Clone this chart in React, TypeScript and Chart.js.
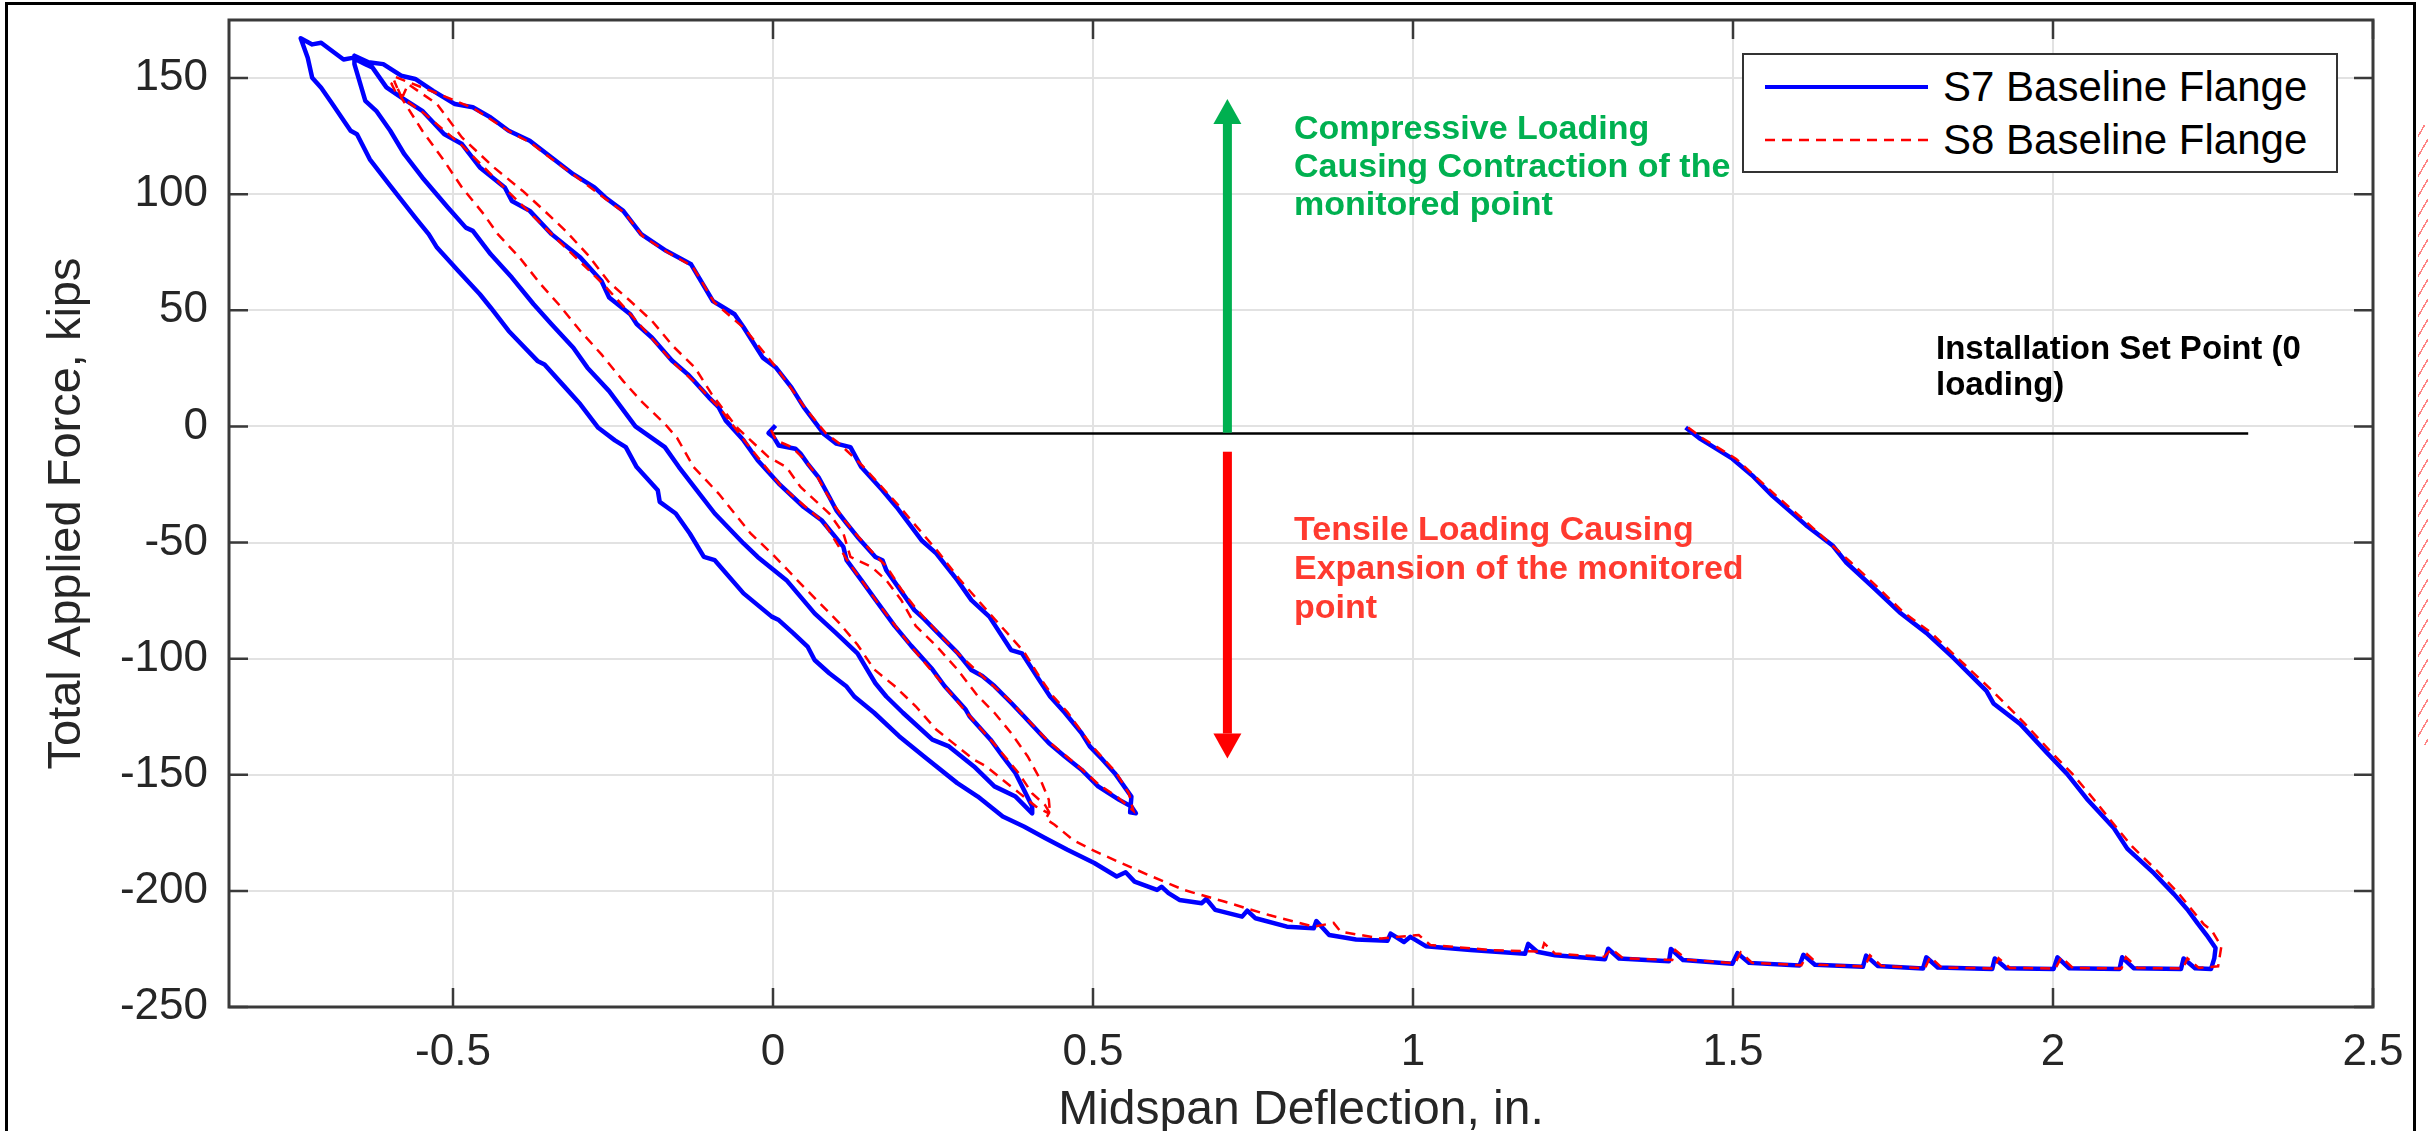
import React, { useEffect, useRef } from 'react';
import { Chart, registerables } from 'chart.js';

Chart.register(...registerables);

type Pt = [number, number];

const W = 2428;
const H = 1131;
const FONT = '"Liberation Sans", Arial, Helvetica, sans-serif';

// ---- axes ----
const xTicks = [-0.5, 0, 0.5, 1, 1.5, 2, 2.5];
const yTicks = [-250, -200, -150, -100, -50, 0, 50, 100, 150];
const xRange: Pt = [-0.85, 2.5];
const yRange: Pt = [-250, 175];

// ---- S7 Baseline Flange (blue, solid) ----
const s7FirstTension: Pt[] = [
  [0.004, 0.4], [-0.007, -2.9], [0.001, -4.6], [0.009, -8.2], [0.035, -9.6], [0.043, -11.7], [0.054, -16.0],
  [0.071, -21.8], [0.088, -30.4], [0.099, -36.1], [0.115, -41.8], [0.132, -47.6], [0.160, -56.2], [0.171, -57.6],
  [0.177, -61.9], [0.199, -70.5], [0.221, -79.1], [0.236, -82.9], [0.262, -90.2], [0.288, -97.4], [0.310, -104.9],
  [0.327, -107.5], [0.346, -111.8], [0.372, -119.0], [0.392, -124.8], [0.431, -136.3], [0.456, -142.1],
  [0.482, -147.8], [0.508, -155.0], [0.541, -160.8], [0.560, -163.7], [0.567, -166.6],
];
const s7FirstReload: Pt[] = [
  [0.558, -166.2], [0.560, -159.4], [0.534, -149.3], [0.515, -143.5], [0.495, -137.8], [0.482, -132.0],
  [0.456, -123.3], [0.433, -116.3], [0.416, -109.2], [0.389, -97.7], [0.372, -96.3], [0.338, -81.9],
  [0.310, -74.8], [0.288, -66.2], [0.255, -54.7], [0.232, -49.0], [0.193, -34.7], [0.171, -27.5], [0.138, -17.5],
  [0.121, -8.9], [0.099, -7.4], [0.080, -3.4], [0.048, 8.3], [0.029, 16.7], [0.004, 25.5], [-0.016, 29.6],
  [-0.046, 42.7], [-0.060, 48.3], [-0.094, 54.0], [-0.128, 69.8], [-0.167, 75.6], [-0.206, 82.8], [-0.234, 92.8],
  [-0.262, 98.6], [-0.279, 102.9], [-0.312, 108.6], [-0.346, 115.8], [-0.380, 123.0], [-0.413, 127.3],
  [-0.441, 133.0], [-0.469, 137.4], [-0.497, 138.8], [-0.531, 144.5], [-0.559, 149.6], [-0.581, 151.0],
  [-0.609, 156.0], [-0.632, 156.8], [-0.654, 159.6],
];
const s7SecondTension: Pt[] = [
  [-0.654, 156.0], [-0.637, 140.2], [-0.620, 135.9], [-0.598, 127.3], [-0.576, 117.2], [-0.548, 107.2],
  [-0.508, 94.3], [-0.480, 85.6], [-0.469, 84.2], [-0.441, 74.1], [-0.408, 64.1], [-0.374, 52.6], [-0.346, 44.0],
  [-0.312, 33.9], [-0.290, 25.3], [-0.256, 15.2], [-0.215, 0.0], [-0.169, -8.9], [-0.147, -17.5], [-0.119, -27.5],
  [-0.091, -37.5], [-0.046, -50.4], [-0.024, -56.2], [0.021, -66.2], [0.065, -80.5], [0.099, -89.1],
  [0.132, -97.7], [0.160, -110.6], [0.177, -116.3], [0.203, -123.3], [0.249, -134.9], [0.275, -137.8],
  [0.314, -146.4], [0.346, -155.0], [0.379, -159.4], [0.405, -166.6],
];
const s7SecondReload: Pt[] = [
  [0.405, -163.7], [0.392, -156.5], [0.379, -149.3], [0.359, -142.1], [0.340, -134.9], [0.307, -124.8],
  [0.301, -121.9], [0.268, -111.8], [0.249, -104.6], [0.216, -94.5], [0.190, -85.9], [0.160, -74.6],
  [0.138, -66.2], [0.115, -57.6], [0.110, -51.9], [0.076, -40.4], [0.048, -34.7], [0.009, -24.6], [-0.024, -14.6],
  [-0.046, -6.0], [-0.074, 2.6], [-0.085, 8.3], [-0.100, 12.4], [-0.124, 19.8], [-0.133, 22.4], [-0.158, 28.4],
  [-0.189, 38.2], [-0.213, 44.1], [-0.223, 48.3], [-0.256, 55.5], [-0.268, 62.6], [-0.301, 72.7], [-0.346, 82.8],
  [-0.380, 92.8], [-0.408, 97.1], [-0.419, 102.9], [-0.458, 111.5], [-0.486, 121.6], [-0.514, 125.9],
  [-0.548, 135.9], [-0.581, 141.7], [-0.604, 146.0], [-0.626, 154.6], [-0.637, 156.0], [-0.657, 158.7],
  [-0.671, 158.0], [-0.692, 162.3], [-0.706, 165.2], [-0.720, 164.5], [-0.738, 167.1],
];
const s7FinalTension: Pt[] = [
  [-0.727, 158.7], [-0.720, 150.1], [-0.706, 145.8], [-0.690, 139.5], [-0.660, 127.3], [-0.650, 125.8],
  [-0.630, 115.0], [-0.598, 103.6], [-0.559, 89.9], [-0.538, 82.8], [-0.525, 77.0], [-0.492, 67.0],
  [-0.458, 56.9], [-0.441, 51.1], [-0.413, 41.1], [-0.368, 28.2], [-0.357, 26.7], [-0.329, 18.1], [-0.301, 9.5],
  [-0.273, -0.6], [-0.247, -6.0], [-0.230, -8.9], [-0.213, -17.5], [-0.180, -27.5], [-0.177, -32.5],
  [-0.152, -37.5], [-0.130, -46.1], [-0.108, -56.2], [-0.091, -57.6], [-0.046, -71.9], [-0.002, -81.9],
  [0.009, -83.4], [0.032, -89.1], [0.054, -94.8], [0.065, -100.6], [0.088, -106.3], [0.115, -112.0],
  [0.127, -116.3], [0.158, -123.3], [0.197, -133.4], [0.236, -142.1], [0.288, -153.6], [0.320, -159.4],
  [0.359, -168.0], [0.392, -172.3], [0.425, -177.2], [0.460, -182.3], [0.502, -188.0], [0.537, -193.8],
  [0.551, -192.0], [0.565, -196.0], [0.600, -199.6], [0.607, -198.2], [0.618, -201.0], [0.635, -203.9],
  [0.670, -205.3], [0.677, -203.5], [0.691, -208.2], [0.733, -211.1], [0.741, -208.5], [0.754, -211.8],
  [0.803, -215.4], [0.845, -216.1], [0.849, -213.0], [0.869, -219.0], [0.911, -220.9], [0.960, -221.5],
  [0.965, -218.4], [0.986, -222.0], [0.996, -219.8], [1.020, -223.8], [1.090, -225.5], [1.175, -227.1],
  [1.180, -222.8], [1.194, -226.2], [1.222, -227.7], [1.300, -229.4], [1.305, -224.9], [1.322, -229.1],
  [1.400, -230.3], [1.403, -225.0], [1.422, -229.8], [1.499, -231.4], [1.507, -226.8], [1.525, -231.0],
  [1.604, -232.1], [1.610, -227.5], [1.628, -231.8], [1.703, -232.7], [1.708, -227.9], [1.726, -232.3],
  [1.797, -233.4], [1.802, -228.6], [1.820, -233.0], [1.905, -233.6], [1.909, -229.1], [1.927, -233.3],
  [2.001, -233.6], [2.007, -228.6], [2.025, -233.3], [2.104, -233.6], [2.108, -228.6], [2.126, -233.3],
  [2.200, -233.6], [2.204, -229.1], [2.222, -233.3], [2.247, -233.6], [2.252, -229.1], [2.254, -224.6],
];
const s7Unload: Pt[] = [
  [2.240, -219.0], [2.226, -214.0], [2.210, -208.0], [2.189, -201.4], [2.158, -192.5], [2.116, -181.8],
  [2.095, -172.9], [2.053, -160.4], [2.022, -149.6], [1.991, -140.7], [1.949, -128.2], [1.907, -119.3],
  [1.896, -113.9], [1.844, -99.6], [1.802, -88.9], [1.760, -80.0], [1.719, -69.3], [1.677, -58.6],
  [1.656, -51.4], [1.614, -42.5], [1.562, -30.0], [1.530, -21.1], [1.499, -13.9], [1.468, -8.6],
  [1.447, -5.0], [1.426, -0.5],
];

// ---- S8 Baseline Flange (red, dashed) ----
const s8FirstTension: Pt[] = [
  [-0.003, -1.5], [0.005, -6.0], [0.030, -9.0], [0.050, -14.5], [0.068, -21.0], [0.085, -29.5], [0.112, -40.5],
  [0.130, -46.5], [0.158, -55.0], [0.178, -60.5], [0.200, -70.0], [0.222, -78.0], [0.260, -89.5], [0.290, -98.0],
  [0.325, -107.0], [0.370, -118.0], [0.390, -124.0], [0.430, -135.5], [0.480, -147.0], [0.508, -154.0],
  [0.540, -160.0], [0.563, -165.5],
];
const s8FirstReload: Pt[] = [
  [0.556, -158.0], [0.536, -149.0], [0.498, -137.5], [0.460, -123.0], [0.437, -116.0], [0.418, -108.5],
  [0.392, -97.0], [0.340, -81.0], [0.292, -66.0], [0.258, -54.0], [0.196, -34.0], [0.140, -17.0], [0.102, -7.0],
  [0.082, -2.8], [0.050, 8.0], [0.006, 25.0], [-0.044, 42.0], [-0.092, 53.5], [-0.126, 69.0], [-0.165, 75.0],
  [-0.204, 82.0], [-0.232, 92.0], [-0.262, 98.0], [-0.310, 108.0], [-0.345, 115.0], [-0.378, 122.0],
  [-0.412, 127.0], [-0.468, 137.0], [-0.530, 144.0], [-0.572, 148.5], [-0.590, 150.5], [-0.596, 147.5],
  [-0.588, 143.0], [-0.578, 142.5],
];
const s8SecondTension: Pt[] = [
  [-0.570, 147.4], [-0.525, 138.8], [-0.486, 124.4], [-0.436, 111.5], [-0.391, 101.4], [-0.357, 92.8],
  [-0.324, 84.2], [-0.290, 74.1], [-0.256, 62.0], [-0.223, 54.0], [-0.189, 45.4], [-0.156, 34.5],
  [-0.122, 25.3], [-0.096, 14.0], [-0.057, -0.3], [-0.007, -13.2], [0.021, -17.5], [0.043, -26.1],
  [0.088, -37.5], [0.110, -46.1], [0.121, -56.2], [0.154, -60.5], [0.177, -66.2], [0.200, -74.6],
  [0.223, -85.9], [0.255, -94.5], [0.288, -104.6], [0.320, -116.1], [0.346, -123.3], [0.372, -132.0],
  [0.398, -142.1], [0.418, -152.2], [0.431, -160.8], [0.433, -166.8],
];
const s8SecondReload: Pt[] = [
  [0.425, -163.0], [0.405, -158.0], [0.383, -149.0], [0.345, -136.5], [0.305, -124.0], [0.270, -112.5],
  [0.218, -95.5], [0.165, -76.5], [0.118, -58.5], [0.080, -41.5], [0.012, -25.5], [-0.042, -7.0],
  [-0.082, 7.5], [-0.122, 19.0], [-0.156, 27.5], [-0.220, 47.5], [-0.266, 61.5], [-0.343, 82.0],
  [-0.417, 102.0], [-0.484, 120.5], [-0.546, 135.0], [-0.580, 141.5], [-0.592, 148.9],
];
const s8FinalTension: Pt[] = [
  [-0.581, 141.7], [-0.548, 127.3], [-0.514, 114.4], [-0.486, 102.9], [-0.452, 91.4], [-0.430, 82.8],
  [-0.396, 72.7], [-0.363, 61.2], [-0.335, 52.6], [-0.301, 41.1], [-0.268, 31.0], [-0.234, 19.5],
  [-0.206, 10.9], [-0.169, 1.1], [-0.150, -4.9], [-0.124, -17.5], [-0.085, -28.9], [-0.035, -46.1],
  [-0.002, -54.7], [0.048, -69.1], [0.104, -84.8], [0.132, -94.0], [0.158, -104.6], [0.190, -111.8],
  [0.223, -120.5], [0.255, -130.5], [0.288, -137.8], [0.314, -143.5], [0.333, -146.4], [0.359, -152.2],
  [0.385, -157.9], [0.411, -163.7], [0.431, -166.6], [0.426, -169.0], [0.440, -171.5], [0.469, -178.1],
  [0.502, -182.8], [0.544, -188.0], [0.586, -193.1], [0.642, -199.6], [0.705, -204.6], [0.775, -210.4],
  [0.845, -215.4], [0.876, -213.8], [0.887, -217.6], [0.950, -220.5], [1.009, -219.0], [1.027, -223.3],
  [1.124, -225.5], [1.201, -226.2], [1.205, -222.6], [1.222, -227.0], [1.299, -228.4], [1.310, -225.0],
  [1.328, -229.0], [1.405, -229.8], [1.410, -225.5], [1.428, -229.6], [1.503, -231.2], [1.512, -226.5],
  [1.530, -231.0], [1.607, -232.0], [1.616, -227.3], [1.634, -231.8], [1.706, -232.6], [1.714, -227.8],
  [1.732, -232.3], [1.800, -233.4], [1.808, -228.4], [1.826, -233.0], [1.908, -233.4], [1.915, -229.0],
  [1.933, -233.2], [2.004, -233.4], [2.013, -228.5], [2.031, -233.2], [2.107, -233.4], [2.114, -228.5],
  [2.132, -233.2], [2.203, -233.4], [2.210, -229.0], [2.228, -233.2], [2.258, -232.5], [2.263, -224.0],
];
const s8Unload: Pt[] = [
  [2.248, -217.0], [2.236, -214.5], [2.196, -201.0], [2.165, -192.0], [2.124, -181.0], [2.100, -173.0],
  [2.062, -160.0], [2.030, -149.5], [1.998, -140.5], [1.956, -128.0], [1.904, -113.5], [1.850, -99.5],
  [1.808, -88.5], [1.766, -80.0], [1.725, -69.0], [1.684, -58.5], [1.620, -42.5], [1.568, -30.0],
  [1.505, -14.0], [1.452, -5.0], [1.430, -0.5],
];

// ---- annotations (data coordinates) ----
const setPointLine: Pt[] = [[0, -3], [2.305, -3]];
const compressionArrow: Pt[] = [[0.71, -2.7], [0.71, 141]];
const tensionArrow: Pt[] = [[0.71, -10.9], [0.71, -143]];

const toXY = (segs: Pt[][]) => segs.flat().map(([x, y]) => ({ x, y }));

function drawArrow(ctx: CanvasRenderingContext2D, xs: any, ys: any, pts: Pt[], color: string) {
  const x0 = xs.getPixelForValue(pts[0][0]);
  const y0 = ys.getPixelForValue(pts[0][1]);
  const x1 = xs.getPixelForValue(pts[1][0]);
  const y1 = ys.getPixelForValue(pts[1][1]);
  const dir = Math.sign(y1 - y0);
  const headLen = 25;
  const headHalf = 14;
  const shaft = 9;
  const baseY = y1 - dir * headLen;
  ctx.fillStyle = color;
  ctx.fillRect(x0 - shaft / 2, Math.min(y0, baseY), shaft, Math.abs(baseY - y0));
  ctx.beginPath();
  ctx.moveTo(x1, y1);
  ctx.lineTo(x1 - headHalf, baseY);
  ctx.lineTo(x1 + headHalf, baseY);
  ctx.closePath();
  ctx.fill();
}

const decorPlugin = {
  id: 'figureDecor',
  afterDatasetsDraw(chart: any) {
    const { ctx, chartArea: a, scales } = chart;
    const xs = scales.x;
    const ys = scales.y;
    ctx.save();
    drawArrow(ctx, xs, ys, compressionArrow, '#00b050');
    drawArrow(ctx, xs, ys, tensionArrow, '#ff0000');
    ctx.strokeStyle = '#3a3a3a';
    ctx.lineWidth = 3;
    ctx.strokeRect(a.left, a.top, a.right - a.left, a.bottom - a.top);
    ctx.lineWidth = 2.5;
    ctx.beginPath();
    const tl = 19;
    xTicks.forEach((v) => {
      const px = xs.getPixelForValue(v);
      ctx.moveTo(px, a.bottom);
      ctx.lineTo(px, a.bottom - tl);
      ctx.moveTo(px, a.top);
      ctx.lineTo(px, a.top + tl);
    });
    yTicks.forEach((v) => {
      const py = ys.getPixelForValue(v);
      ctx.moveTo(a.left, py);
      ctx.lineTo(a.left + tl, py);
      ctx.moveTo(a.right, py);
      ctx.lineTo(a.right - tl, py);
    });
    ctx.stroke();
    ctx.restore();
  },
};

export default function App() {
  const ref = useRef<HTMLCanvasElement>(null);

  useEffect(() => {
    document.body.style.margin = '0';
    Chart.defaults.font.family = FONT;
    const chart = new Chart(ref.current as HTMLCanvasElement, {
      type: 'scatter',
      data: {
        datasets: [
          {
            label: 'S8 Baseline Flange',
            data: toXY([s8FirstTension, s8FirstReload, s8SecondTension, s8SecondReload, s8FinalTension, s8Unload]),
            showLine: true,
            borderColor: '#ff0000',
            borderWidth: 2.5,
            borderDash: [10, 7],
            pointRadius: 0,
            order: 0,
          },
          {
            label: 'S7 Baseline Flange',
            data: toXY([s7FirstTension, s7FirstReload, s7SecondTension, s7SecondReload, s7FinalTension, s7Unload]),
            showLine: true,
            borderColor: '#0000ff',
            borderWidth: 4.5,
            borderJoinStyle: 'round',
            pointRadius: 0,
            order: 1,
          },
          {
            label: 'Installation Set Point',
            data: toXY([setPointLine]),
            showLine: true,
            borderColor: '#000000',
            borderWidth: 2.5,
            pointRadius: 0,
            order: 2,
          },
        ],
      },
      options: {
        responsive: false,
        maintainAspectRatio: false,
        devicePixelRatio: 1,
        animation: false,
        events: [],
        layout: { padding: { left: 0, right: 55, top: 20, bottom: 0 } },
        elements: { line: { tension: 0 } },
        plugins: { legend: { display: false }, tooltip: { enabled: false } },
        scales: {
          x: {
            type: 'linear',
            min: xRange[0],
            max: xRange[1],
            afterBuildTicks: (s: any) => {
              s.ticks = xTicks.map((v) => ({ value: v }));
            },
            afterFit: (s: any) => {
              s.height = 124;
              s.paddingLeft = 0;
              s.paddingRight = 0;
            },
            grid: { color: '#e2e2e2', lineWidth: 2, drawTicks: false },
            border: { display: false },
            ticks: {
              padding: 19,
              autoSkip: false,
              maxRotation: 0,
              color: '#262626',
              font: { size: 44 },
              callback: (v: any) => String(v),
            },
            title: {
              display: true,
              text: 'Midspan Deflection, in.',
              color: '#262626',
              font: { size: 48, lineHeight: 1 },
              padding: { top: 0, bottom: -4 },
            },
          },
          y: {
            type: 'linear',
            min: yRange[0],
            max: yRange[1],
            afterBuildTicks: (s: any) => {
              s.ticks = yTicks.map((v) => ({ value: v }));
            },
            afterFit: (s: any) => {
              s.width = 229;
              s.paddingTop = 0;
              s.paddingBottom = 0;
            },
            grid: { color: '#e2e2e2', lineWidth: 2, drawTicks: false },
            border: { display: false },
            ticks: {
              padding: 21,
              autoSkip: false,
              color: '#262626',
              font: { size: 44 },
              callback: (v: any) => String(v),
            },
            title: {
              display: true,
              text: 'Total Applied Force, kips',
              color: '#262626',
              font: { size: 47, lineHeight: 1 },
              padding: { top: 44, bottom: 0 },
            },
          },
        },
      },
      plugins: [decorPlugin],
    } as any);
    return () => chart.destroy();
  }, []);

  const abs = (s: React.CSSProperties): React.CSSProperties => ({ position: 'absolute', ...s });

  return (
    <div style={{ position: 'relative', width: W, height: H, overflow: 'hidden', background: '#ffffff', fontFamily: FONT }}>
      <style>{'body{margin:0;}'}</style>
      <canvas ref={ref} width={W} height={H} style={abs({ left: 0, top: 0, width: W, height: H })} />

      {/* outer figure frame */}
      <div style={abs({ left: 5, top: 2, width: 2411, height: 1200, border: '3px solid #000', boxSizing: 'border-box' })} />

      {/* hatch remnant at right edge */}
      <div
        style={abs({
          left: 2418,
          top: 125,
          width: 10,
          height: 620,
          background: 'repeating-linear-gradient(120deg, transparent 0px, transparent 5px, rgba(255,90,90,0.75) 5px, rgba(255,90,90,0.75) 6.5px, transparent 6.5px, transparent 10px)',
        })}
      />

      {/* legend */}
      <div style={abs({ left: 1742, top: 53, width: 596, height: 120, border: '2.5px solid #333', boxSizing: 'border-box', background: '#fff' })} />
      <svg width={180} height={80} style={abs({ left: 1760, top: 70 })}>
        <line x1={5} y1={17} x2={168} y2={17} stroke="#0000ff" strokeWidth={4} />
        <line x1={5} y1={70} x2={168} y2={70} stroke="#ff0000" strokeWidth={2.5} strokeDasharray="10 7" />
      </svg>
      <div style={abs({ left: 1943, top: 66, fontSize: 42, lineHeight: '42px', color: '#000', whiteSpace: 'nowrap' })}>S7 Baseline Flange</div>
      <div style={abs({ left: 1943, top: 119, fontSize: 42, lineHeight: '42px', color: '#000', whiteSpace: 'nowrap' })}>S8 Baseline Flange</div>

      {/* annotation texts */}
      <div style={abs({ left: 1294, top: 108, fontSize: 34, lineHeight: '38px', fontWeight: 700, color: '#00b050', whiteSpace: 'nowrap' })}>
        Compressive Loading<br />Causing Contraction of the<br />monitored point
      </div>
      <div style={abs({ left: 1294, top: 509, fontSize: 34, lineHeight: '39px', fontWeight: 700, color: '#ff3a2f', whiteSpace: 'nowrap' })}>
        Tensile Loading Causing<br />Expansion of the monitored<br />point
      </div>
      <div style={abs({ left: 1936, top: 330, fontSize: 33, lineHeight: '36px', fontWeight: 700, color: '#000', whiteSpace: 'nowrap' })}>
        Installation Set Point (0<br />loading)
      </div>
    </div>
  );
}
